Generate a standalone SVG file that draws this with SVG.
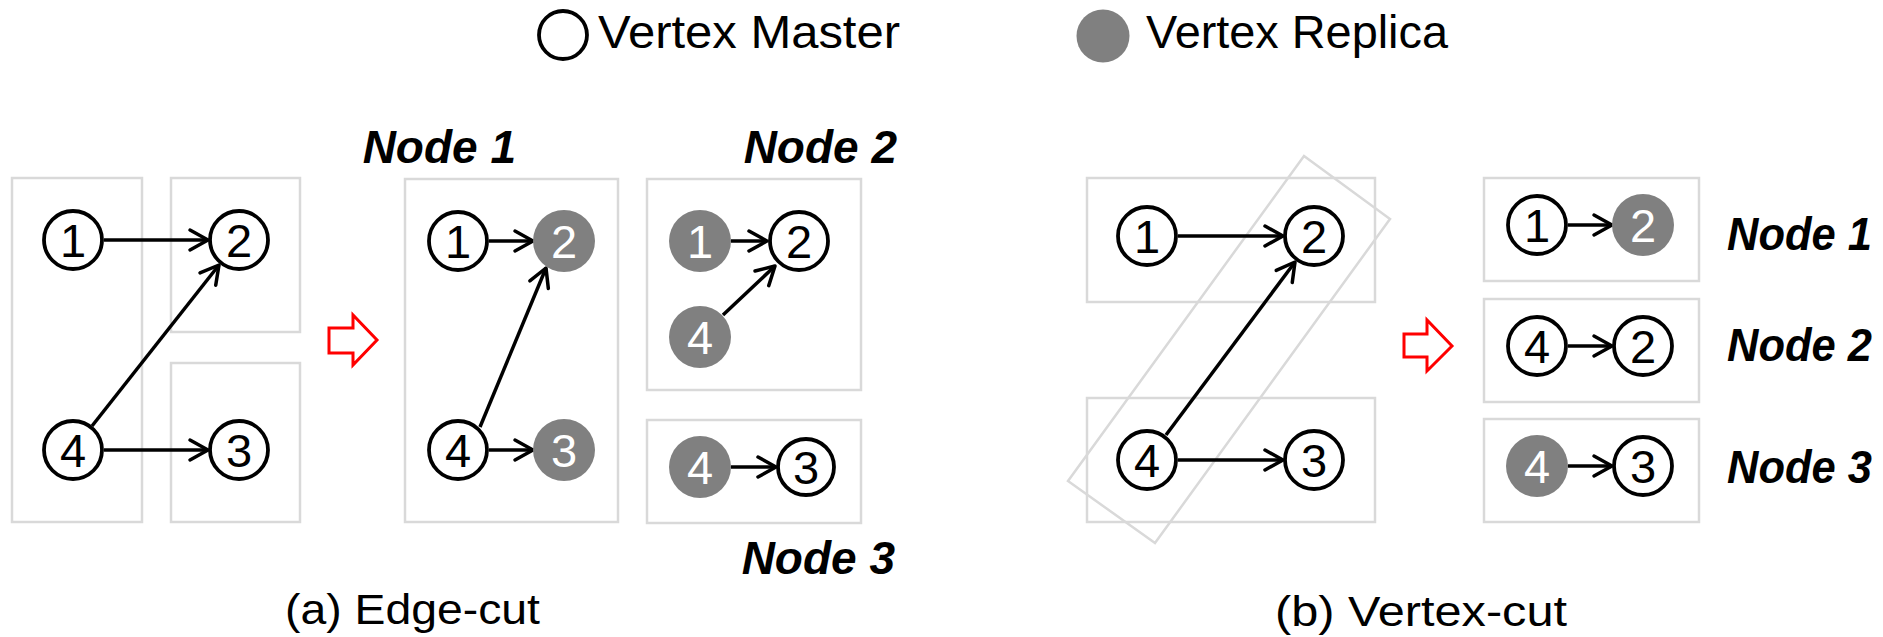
<svg xmlns="http://www.w3.org/2000/svg" width="1883" height="637" viewBox="0 0 1883 637">
  <style>
    .box { fill: none; stroke: #d9d9d9; stroke-width: 2.5; }
    .master { fill: #ffffff; stroke: #000000; stroke-width: 3.8; }
    .replica { fill: #808080; stroke: none; }
    .num { font-family: "Liberation Sans", Arial, sans-serif; font-size: 47px; text-anchor: middle; fill: #000000; }
    .num.w { fill: #ffffff; }
    .edge { stroke: #000000; stroke-width: 3.5; fill: none; marker-end: url(#arrow); }
    .label { font-family: "Liberation Sans", Arial, sans-serif; font-size: 46px; font-weight: bold; font-style: italic; fill: #000000; }
    .legend { font-family: "Liberation Sans", Arial, sans-serif; font-size: 46px; fill: #000000; }
    .caption { font-family: "Liberation Sans", Arial, sans-serif; font-size: 43px; fill: #000000; }
    .step { fill: #ffffff; stroke: #ff0000; stroke-width: 3; stroke-linejoin: miter; }
  </style>
  <defs>
    <marker id="arrow" markerUnits="userSpaceOnUse" markerWidth="30" markerHeight="30" viewBox="-25 -15 30 30" refX="0" refY="0" orient="auto">
      <path d="M -18 -10 L 0 0 L -18 10" fill="none" stroke="#000000" stroke-width="3.5" stroke-linecap="round" stroke-linejoin="round"/>
    </marker>
  </defs>
  <rect width="1883" height="637" fill="#ffffff"/>

  <!-- legend -->
  <g id="legend">
    <circle cx="563" cy="35" r="24" class="master" stroke-width="3"/>
    <text x="598" y="48" class="legend" textLength="302" lengthAdjust="spacingAndGlyphs">Vertex Master</text>
    <circle cx="1103" cy="36" r="26.5" class="replica"/>
    <text x="1146" y="48" class="legend" textLength="302" lengthAdjust="spacingAndGlyphs">Vertex Replica</text>
  </g>

  <!-- (a) edge-cut: original graph with partitions -->
  <g id="ec-partitions">
    <rect x="12" y="178" width="130" height="344" class="box"/>
    <rect x="171" y="178" width="129" height="154" class="box"/>
    <rect x="171" y="363" width="129" height="159" class="box"/>
  </g>
  <g id="ec-connectors">
    <line x1="104" y1="240" x2="208" y2="240" class="edge"/>
    <line x1="104" y1="450" x2="208" y2="450" class="edge"/>
    <line x1="92" y1="426" x2="219" y2="265" class="edge"/>
  </g>
  <g id="ec-v1"><circle cx="73" cy="240" r="29" class="master"/><text x="73" y="257" class="num">1</text></g>
  <g id="ec-v2"><circle cx="239" cy="240" r="29" class="master"/><text x="239" y="257" class="num">2</text></g>
  <g id="ec-v4"><circle cx="73" cy="450" r="29" class="master"/><text x="73" y="467" class="num">4</text></g>
  <g id="ec-v3"><circle cx="239" cy="450" r="29" class="master"/><text x="239" y="467" class="num">3</text></g>

  <polygon id="ec-step" points="329,328 353,328 353,315 377,340 353,365 353,353 329,353" class="step"/>

  <!-- (a) edge-cut: per-node result -->
  <g id="ec-node1">
    <rect x="405" y="179" width="213" height="343" class="box"/>
    <text x="516" y="163" class="label" text-anchor="end">Node 1</text>
  </g>
  <g id="ec-node2">
    <rect x="647" y="179" width="214" height="211" class="box"/>
    <text x="897" y="163" class="label" text-anchor="end">Node 2</text>
  </g>
  <g id="ec-node3">
    <rect x="647" y="420" width="214" height="103" class="box"/>
    <text x="895" y="574" class="label" text-anchor="end">Node 3</text>
  </g>
  <g id="ec-result-connectors">
    <line x1="489" y1="241" x2="533" y2="241" class="edge"/>
    <line x1="489" y1="450" x2="533" y2="450" class="edge"/>
    <line x1="480" y1="427" x2="546" y2="268" class="edge"/>
    <line x1="731" y1="241" x2="767" y2="241" class="edge"/>
    <line x1="723" y1="315" x2="775" y2="266" class="edge"/>
    <line x1="731" y1="467" x2="776" y2="467" class="edge"/>
  </g>
  <g id="n1-v1"><circle cx="458" cy="241" r="29" class="master"/><text x="458" y="258" class="num">1</text></g>
  <g id="n1-v2"><circle cx="564" cy="241" r="31" class="replica"/><text x="564" y="258" class="num w">2</text></g>
  <g id="n1-v4"><circle cx="458" cy="450" r="29" class="master"/><text x="458" y="467" class="num">4</text></g>
  <g id="n1-v3"><circle cx="564" cy="450" r="31" class="replica"/><text x="564" y="467" class="num w">3</text></g>
  <g id="n2-v1"><circle cx="700" cy="241" r="31" class="replica"/><text x="700" y="258" class="num w">1</text></g>
  <g id="n2-v2"><circle cx="799" cy="241" r="29" class="master"/><text x="799" y="258" class="num">2</text></g>
  <g id="n2-v4"><circle cx="700" cy="337" r="31" class="replica"/><text x="700" y="354" class="num w">4</text></g>
  <g id="n3-v4"><circle cx="700" cy="467" r="31" class="replica"/><text x="700" y="484" class="num w">4</text></g>
  <g id="n3-v3"><circle cx="806" cy="467" r="28" class="master"/><text x="806" y="484" class="num">3</text></g>

  <text x="285" y="624" class="caption" textLength="255" lengthAdjust="spacingAndGlyphs">(a) Edge-cut</text>

  <!-- (b) vertex-cut: original graph with partitions -->
  <g id="vc-partitions">
    <rect x="1087" y="178" width="288" height="124" class="box"/>
    <rect x="1087" y="398" width="288" height="124" class="box"/>
    <polygon points="1304,156 1390,219 1155,543 1068,481" class="box"/>
  </g>
  <g id="vc-connectors">
    <line x1="1178" y1="236" x2="1283" y2="236" class="edge"/>
    <line x1="1178" y1="460" x2="1283" y2="460" class="edge"/>
    <line x1="1166" y1="435" x2="1295" y2="262" class="edge"/>
  </g>
  <g id="vc-v1"><circle cx="1147" cy="236" r="29" class="master"/><text x="1147" y="253" class="num">1</text></g>
  <g id="vc-v2"><circle cx="1314" cy="236" r="29" class="master"/><text x="1314" y="253" class="num">2</text></g>
  <g id="vc-v4"><circle cx="1147" cy="460" r="29" class="master"/><text x="1147" y="477" class="num">4</text></g>
  <g id="vc-v3"><circle cx="1314" cy="460" r="29" class="master"/><text x="1314" y="477" class="num">3</text></g>

  <polygon id="vc-step" points="1404,334 1427,334 1427,320 1452,346 1427,371 1427,357 1404,357" class="step"/>

  <!-- (b) vertex-cut: per-node result -->
  <g id="vc-node1">
    <rect x="1484" y="178" width="215" height="103" class="box"/>
    <text x="1872" y="250" class="label" text-anchor="end" textLength="145" lengthAdjust="spacingAndGlyphs">Node 1</text>
  </g>
  <g id="vc-node2">
    <rect x="1484" y="299" width="215" height="103" class="box"/>
    <text x="1872" y="361" class="label" text-anchor="end" textLength="145" lengthAdjust="spacingAndGlyphs">Node 2</text>
  </g>
  <g id="vc-node3">
    <rect x="1484" y="419" width="215" height="103" class="box"/>
    <text x="1872" y="483" class="label" text-anchor="end" textLength="145" lengthAdjust="spacingAndGlyphs">Node 3</text>
  </g>
  <g id="vc-result-connectors">
    <line x1="1568" y1="225" x2="1612" y2="225" class="edge"/>
    <line x1="1568" y1="346" x2="1612" y2="346" class="edge"/>
    <line x1="1568" y1="466" x2="1612" y2="466" class="edge"/>
  </g>
  <g id="m1-v1"><circle cx="1537" cy="225" r="29" class="master"/><text x="1537" y="242" class="num">1</text></g>
  <g id="m1-v2"><circle cx="1643" cy="225" r="31" class="replica"/><text x="1643" y="242" class="num w">2</text></g>
  <g id="m2-v4"><circle cx="1537" cy="346" r="29" class="master"/><text x="1537" y="363" class="num">4</text></g>
  <g id="m2-v2"><circle cx="1643" cy="346" r="29" class="master"/><text x="1643" y="363" class="num">2</text></g>
  <g id="m3-v4"><circle cx="1537" cy="466" r="31" class="replica"/><text x="1537" y="483" class="num w">4</text></g>
  <g id="m3-v3"><circle cx="1643" cy="466" r="29" class="master"/><text x="1643" y="483" class="num">3</text></g>

  <text x="1275" y="626" class="caption" textLength="292" lengthAdjust="spacingAndGlyphs">(b) Vertex-cut</text>
</svg>
